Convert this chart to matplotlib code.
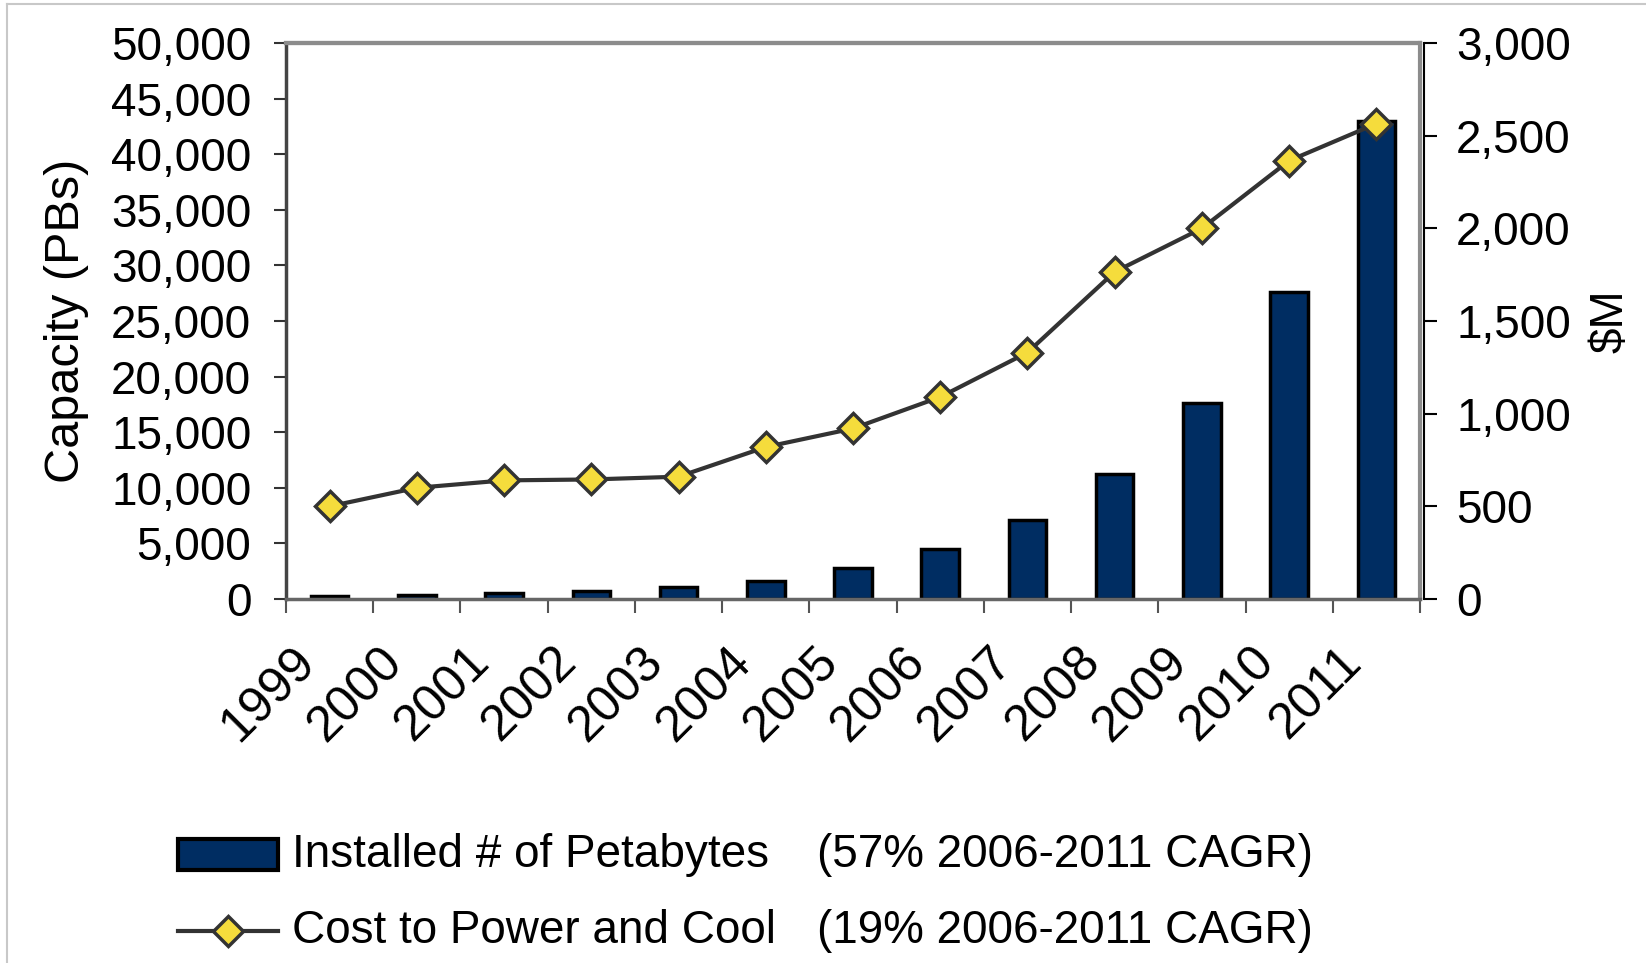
import numpy as np
import matplotlib
matplotlib.use("Agg")
import matplotlib.pyplot as plt
from matplotlib.ticker import FuncFormatter
from matplotlib.patches import Rectangle
from matplotlib.lines import Line2D
from matplotlib.transforms import ScaledTranslation

#Data
years = ["1999", "2000", "2001", "2002", "2003", "2004", "2005",
         "2006", "2007", "2008", "2009", "2010", "2011"]
petabytes = [250, 350, 500, 750, 1100, 1650, 2800, 4500, 7100, 11200, 17600, 27600, 43000]
cost_musd = [500, 600, 640, 645, 660, 820, 920, 1090, 1330, 1765, 2000, 2365, 2565]

label_bars = "Installed # of Petabytes"
label_line = "Cost to Power and Cool"
cagr_bars = "(57% 2006-2011 CAGR)"
cagr_line = "(19% 2006-2011 CAGR)"

plt.rcParams["font.family"] = ["Liberation Sans", "DejaVu Sans"]

W, H = 1646, 963
fig = plt.figure(figsize=(W/100, H/100), dpi=100)
ax = fig.add_axes([286/W, 1-599/H, (1420-286)/W, (599-43)/H])
ax2 = ax.twinx()

x = np.arange(len(years))
ax.bar(x, petabytes, width=0.43, color="#002D62", edgecolor="black", linewidth=2.5, zorder=2)
ax2.plot(x, cost_musd, color="#333333", lw=3, marker="D", markersize=15,
         markerfacecolor="#F5DC3C", markeredgecolor="#333333", markeredgewidth=2.5, zorder=3)

ax.set_xlim(-0.5, len(years)-0.5)
ax.set_ylim(0, 50000)
ax2.set_ylim(0, 3000)
ax.set_yticks(np.arange(0, 50001, 5000))
ax2.set_yticks(np.arange(0, 3001, 500))
fmt = FuncFormatter(lambda v, p: "{:,.0f}".format(v))
ax.yaxis.set_major_formatter(fmt)
ax2.yaxis.set_major_formatter(fmt)

fs = 33
ax.tick_params(axis="y", labelsize=fs, length=9, width=1.5, color="#333333", pad=16)
ax2.tick_params(axis="y", labelsize=fs, length=9, width=1.5, color="black", pad=14)

#Ticks entre les barres, labels au centre
ax.set_xticks(np.arange(-0.5, len(years), 1))
ax.set_xticklabels([])
ax.tick_params(axis="x", which="major", length=10, width=1.5, color="#555555")
ax.set_xticks(x, minor=True)
ax.set_xticklabels(years, minor=True)
ax.tick_params(axis="x", which="minor", length=0, labelsize=36, pad=40)
for lab in ax.get_xticklabels(minor=True):
    lab.set_rotation(45)
    lab.set_ha("right")
    lab.set_va("center")
    lab.set_rotation_mode("anchor")
    lab.set_transform(lab.get_transform() + ScaledTranslation(-22/100, 0, fig.dpi_scale_trans))

ax.set_ylabel("Capacity (PBs)", fontsize=35, labelpad=16)
ax2.set_ylabel("$M", fontsize=fs, rotation=90, labelpad=13)

for a in (ax, ax2):
    a.spines["top"].set_color("#8C8C8C")
    a.spines["top"].set_linewidth(3)
ax.spines["left"].set_color("#444444")
ax.spines["left"].set_linewidth(2.5)
ax.spines["bottom"].set_color("#666666")
ax.spines["bottom"].set_linewidth(2.5)
ax2.spines["bottom"].set_visible(False)
ax2.spines["left"].set_visible(False)
ax.spines["right"].set_color("#8C8C8C")
ax.spines["right"].set_linewidth(3)
ax2.spines["right"].set_position(("outward", 3))
ax2.spines["right"].set_color("black")
ax2.spines["right"].set_linewidth(1.5)
ax.set_zorder(1)
ax2.set_zorder(2)
ax2.patch.set_visible(False)

#Legende
fig.add_artist(Rectangle((178/W, 1-870/H), 100/W, 31/H, facecolor="#002D62",
                         edgecolor="black", linewidth=3, transform=fig.transFigure))
fig.add_artist(Line2D([178/W, 278/W], [1-931/H, 1-931/H], color="#333333", lw=3,
                      transform=fig.transFigure))
fig.add_artist(Line2D([228/W], [1-931/H], marker="D", markersize=15, markerfacecolor="#F5DC3C",
                      markeredgecolor="#333333", markeredgewidth=2.5, transform=fig.transFigure))
lfs = 33
fig.text(292/W, 1-867/H, label_bars, fontsize=lfs, va="baseline")
fig.text(292/W, 1-943/H, label_line, fontsize=lfs, va="baseline")
fig.text(817/W, 1-867/H, cagr_bars, fontsize=lfs, va="baseline")
fig.text(817/W, 1-943/H, cagr_line, fontsize=lfs, va="baseline")

#Cadre
fig.add_artist(Line2D([7/W, 7/W], [0, 1-4/H], color="#C8C8C8", lw=1.5, transform=fig.transFigure))
fig.add_artist(Line2D([7/W, 1], [1-4/H, 1-4/H], color="#C8C8C8", lw=1.5, transform=fig.transFigure))

fig.savefig("out.png", dpi=100)
